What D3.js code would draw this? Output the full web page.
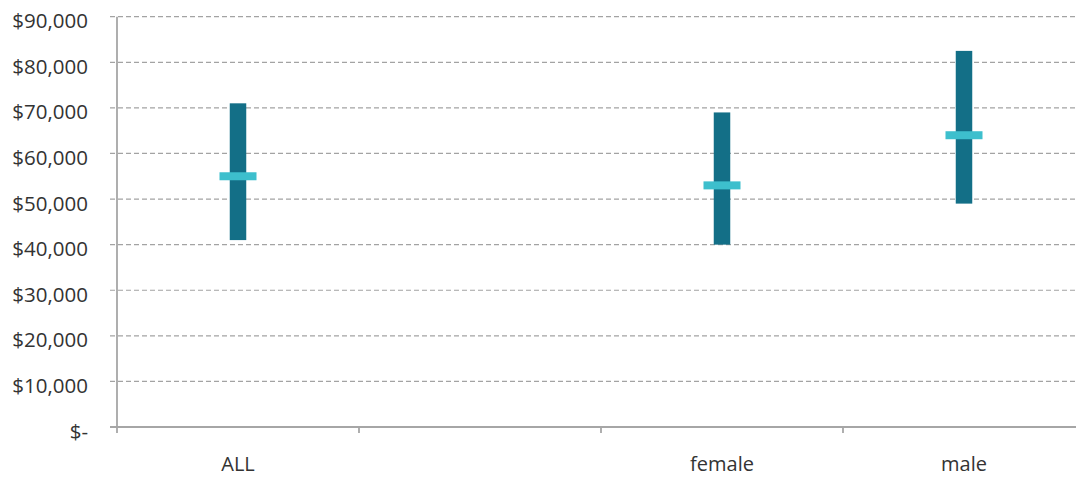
<!DOCTYPE html>
<html>
<head>
<meta charset="utf-8">
<script src="https://cdn.jsdelivr.net/npm/d3@7"></script>
<style>
  html, body { margin: 0; padding: 0; background: #fff; }
  svg { display: block; }
  text { font-family: "Open Sans", sans-serif; fill: #333; }
</style>
</head>
<body>
<svg id="chart" width="1076" height="477"></svg>
<script>
// ---- data ----
const categories = ["ALL", " ", "female", "male"];
const lowValues  = [41000, null, 40000, 49000];
const highValues = [71000, null, 69000, 82500];
const midValues  = [55000, null, 53000, 64000];
const yTicks = [0, 10000, 20000, 30000, 40000, 50000, 60000, 70000, 80000, 90000];

(function () {
// ---- layout ----
const W = 1076, H = 477;
const mLeft = 117, mBottom = 427, mTop = 16.7;
const svg = d3.select("#chart");

const x = d3.scaleBand().domain(categories).range([mLeft, mLeft + 4 * 242]).paddingInner(0).paddingOuter(0);
const y = d3.scaleLinear().domain([0, 90000]).range([mBottom, mTop]);

const fmt = v => v === 0 ? "$-" : "$" + d3.format(",")(v);

// gridlines
svg.append("g").selectAll("line").data(yTicks.filter(d => d > 0)).join("line")
  .attr("x1", mLeft - 7).attr("x2", W)
  .attr("y1", d => y(d)).attr("y2", d => y(d))
  .attr("stroke", "#a3a3a3").attr("stroke-width", 1.2)
  .attr("stroke-dasharray", "5,3");

// y labels
svg.append("g").selectAll("text").data(yTicks).join("text")
  .attr("x", 88).attr("y", d => y(d) + 11.6)
  .attr("text-anchor", "end")
  .attr("font-size", 20.5)
  .text(fmt);

// x axis line
svg.append("line").attr("x1", mLeft - 7).attr("x2", W).attr("y1", mBottom).attr("y2", mBottom)
  .attr("stroke", "#a6a6a6").attr("stroke-width", 1.8);
// y axis line
svg.append("line").attr("x1", mLeft).attr("x2", mLeft).attr("y1", mTop).attr("y2", mBottom + 6)
  .attr("stroke", "#a6a6a6").attr("stroke-width", 1.8);
// x tick marks at band boundaries
svg.append("g").selectAll("line").data(categories.slice(1)).join("line")
  .attr("x1", d => x(d)).attr("x2", d => x(d))
  .attr("y1", mBottom).attr("y2", mBottom + 6)
  .attr("stroke", "#a6a6a6").attr("stroke-width", 1.8);

// x labels
svg.append("g").selectAll("text").data(categories).join("text")
  .attr("x", d => x(d) + x.bandwidth() / 2)
  .attr("y", 471)
  .attr("text-anchor", "middle")
  .attr("font-size", 20)
  .text(d => d);

// range bars
const rows = categories.map((c, i) => ({ c, lo: lowValues[i], hi: highValues[i], mid: midValues[i] }))
  .filter(r => r.lo !== null);
const barW = 16.5, markW = 37, markH = 8;

svg.append("g").selectAll("rect").data(rows).join("rect")
  .attr("x", d => x(d.c) + x.bandwidth() / 2 - barW / 2)
  .attr("width", barW)
  .attr("y", d => y(d.hi))
  .attr("height", d => y(d.lo) - y(d.hi))
  .attr("fill", "#136f87");

svg.append("g").selectAll("rect").data(rows).join("rect")
  .attr("x", d => x(d.c) + x.bandwidth() / 2 - markW / 2)
  .attr("width", markW)
  .attr("y", d => y(d.mid) - markH / 2)
  .attr("height", markH)
  .attr("fill", "#3dbfcd");
})();
</script>
</body>
</html>
